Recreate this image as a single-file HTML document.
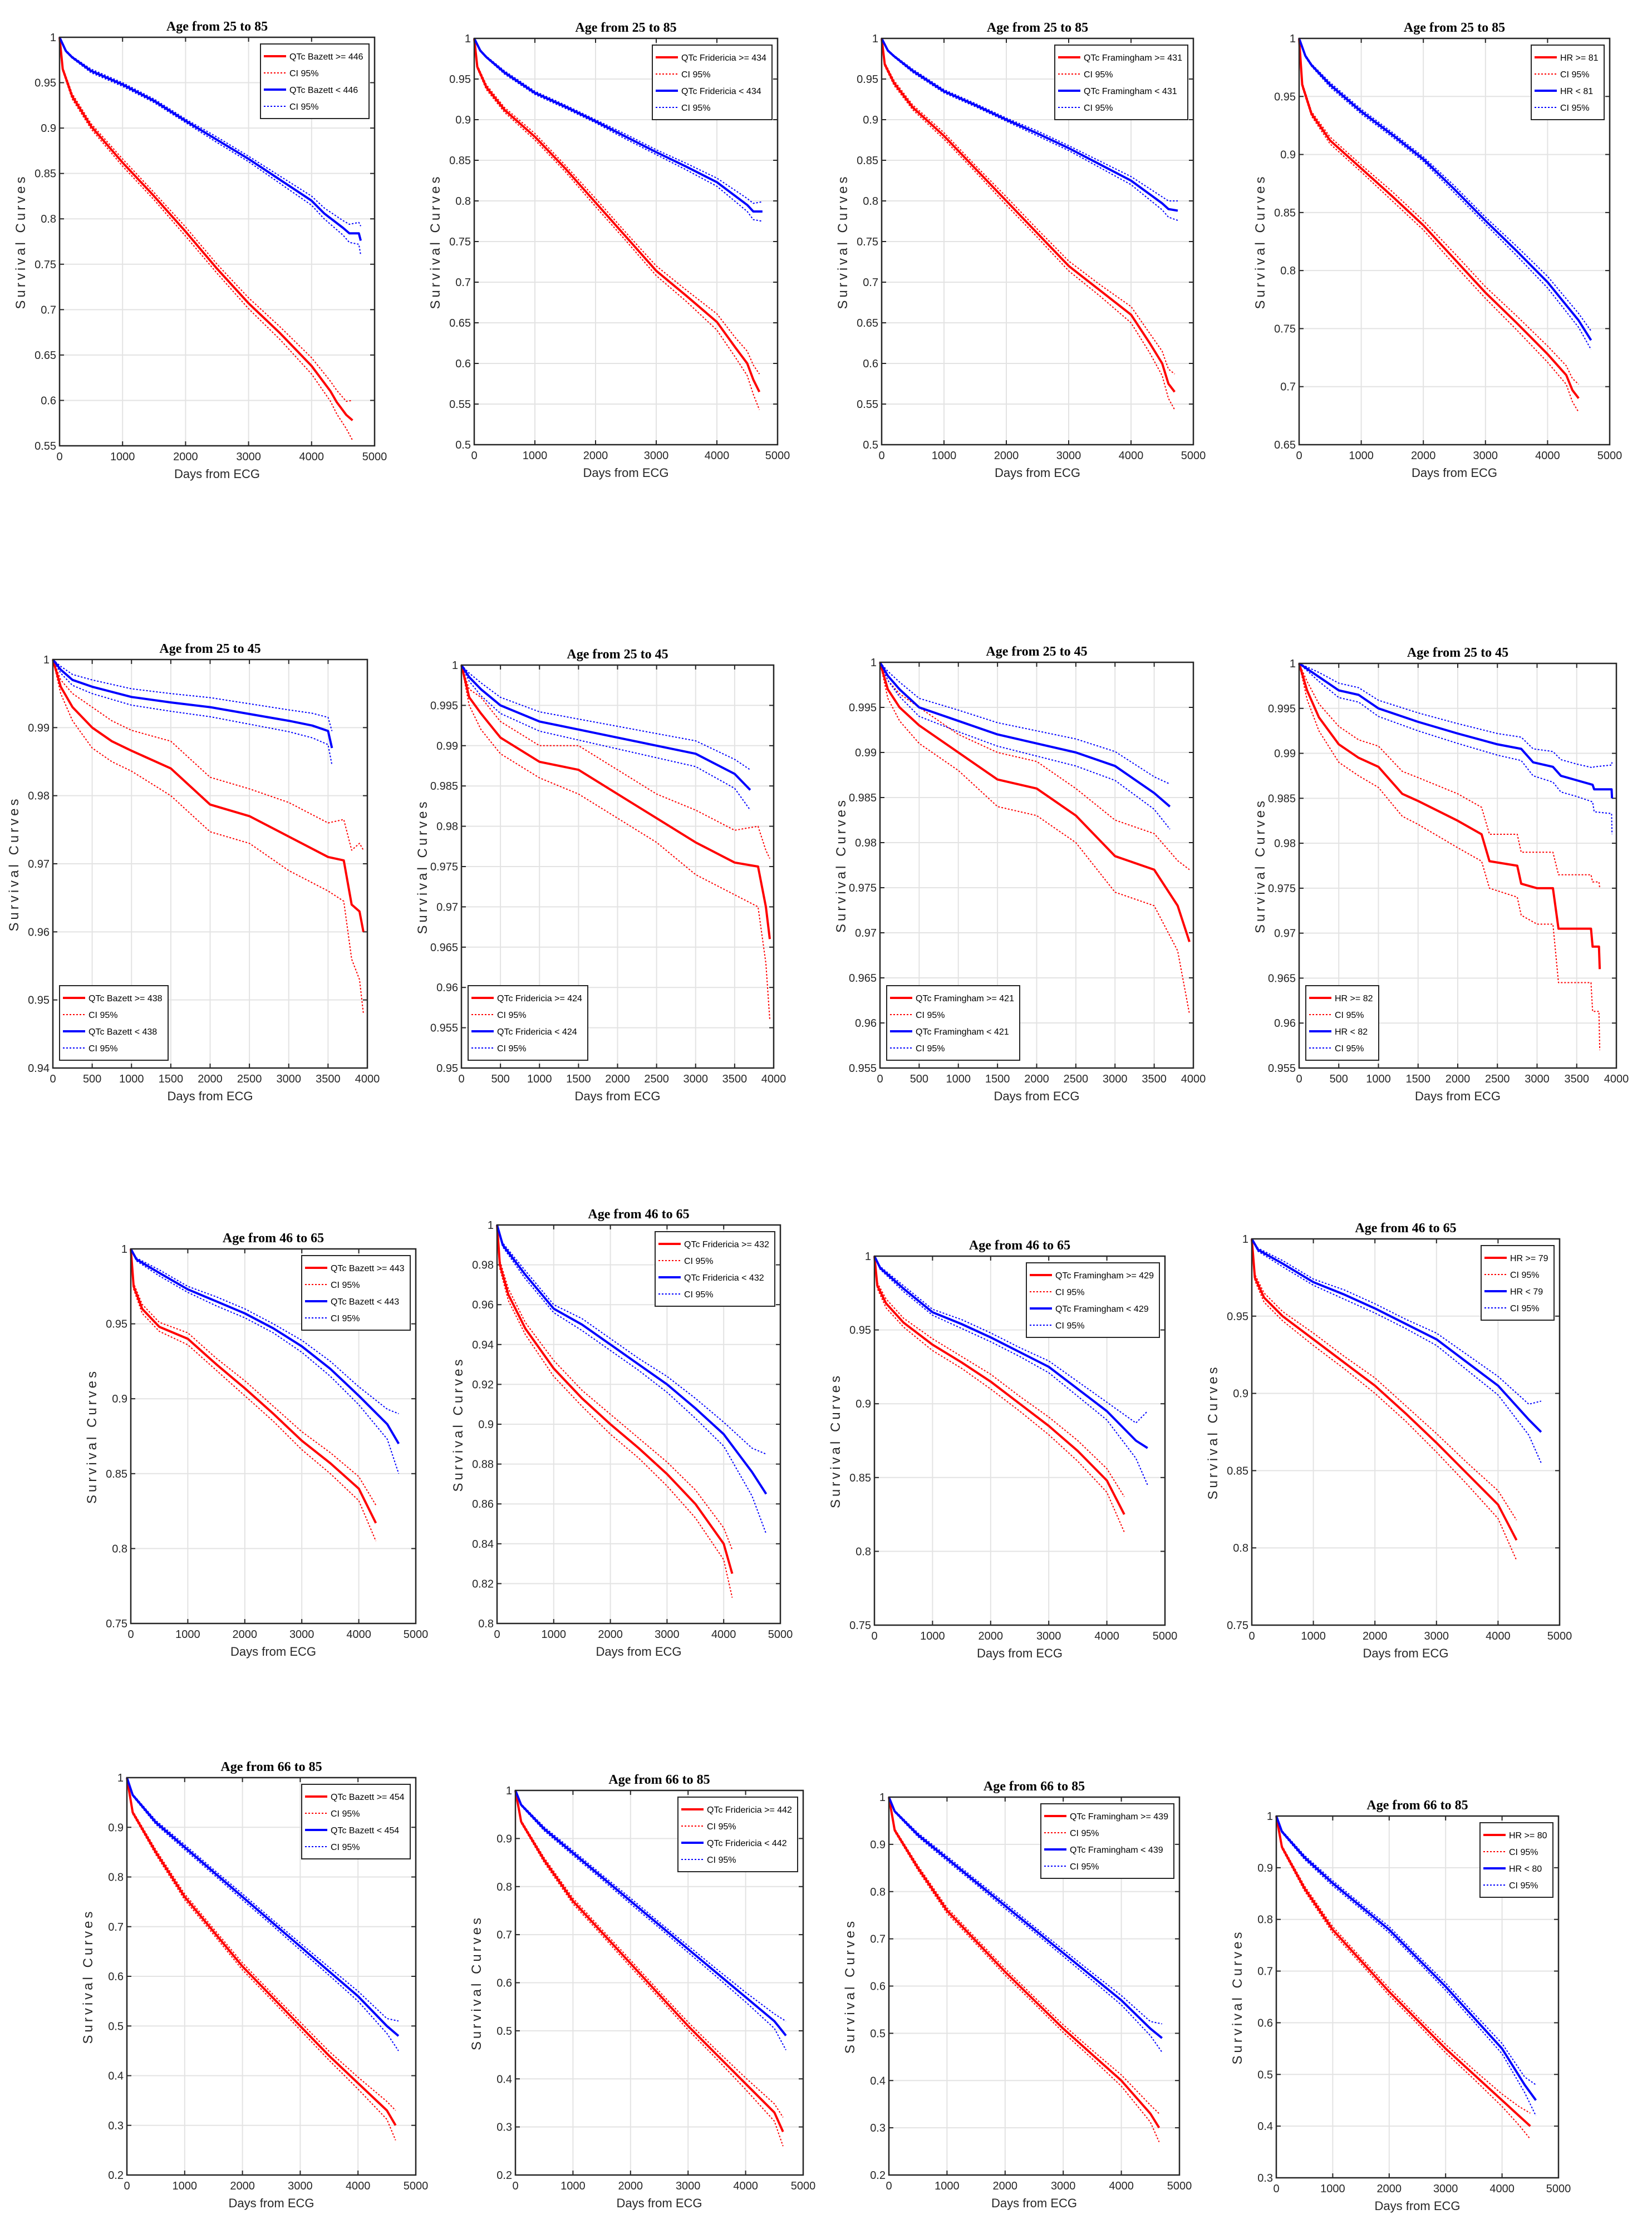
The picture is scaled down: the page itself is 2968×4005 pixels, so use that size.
<!DOCTYPE html>
<html><head><meta charset="utf-8"><title>Survival curves</title>
<style>html,body{margin:0;padding:0;background:#fff;}svg{display:block;}</style></head>
<body>
<svg id="fig" xmlns="http://www.w3.org/2000/svg" width="2968" height="4005" viewBox="0 0 2968 4005"></svg>
<script>
// ---- data (days, survival, CI half-widths) ----
const titles = ["Age from  25 to 85","Age from  25 to 85","Age from  25 to 85","Age from  25 to 85",
"Age from  25 to 45","Age from  25 to 45","Age from  25 to 45","Age from  25 to 45",
"Age from  46 to 65","Age from  46 to 65","Age from  46 to 65","Age from  46 to 65",
"Age from  66 to 85","Age from  66 to 85","Age from  66 to 85","Age from  66 to 85"];
const redLabels = ["QTc Bazett >= 446","QTc Fridericia >= 434","QTc Framingham >= 431","HR >= 81",
"QTc Bazett >= 438","QTc Fridericia >= 424","QTc Framingham >= 421","HR >= 82",
"QTc Bazett >= 443","QTc Fridericia >= 432","QTc Framingham >= 429","HR >= 79",
"QTc Bazett >= 454","QTc Fridericia >= 442","QTc Framingham >= 439","HR >= 80"];
const blueLabels = ["QTc Bazett < 446","QTc Fridericia < 434","QTc Framingham < 431","HR < 81",
"QTc Bazett < 438","QTc Fridericia < 424","QTc Framingham < 421","HR < 82",
"QTc Bazett < 443","QTc Fridericia < 432","QTc Framingham < 429","HR < 79",
"QTc Bazett < 454","QTc Fridericia < 442","QTc Framingham < 439","HR < 80"];
const yMin = [0.55,0.5,0.5,0.65, 0.94,0.95,0.955,0.955, 0.75,0.8,0.75,0.75, 0.2,0.2,0.2,0.3];
const yStep = [0.05,0.05,0.05,0.05, 0.01,0.005,0.005,0.005, 0.05,0.02,0.05,0.05, 0.1,0.1,0.1,0.1];
const xMax = [5000,5000,5000,5000, 4000,4000,4000,4000, 5000,5000,5000,5000, 5000,5000,5000,5000];

const redDays = [
[0,50,200,500,1000,1500,2000,2500,3000,3500,4000,4300,4400,4550,4650],
[0,50,200,500,1000,1500,2000,2500,3000,3500,4000,4300,4500,4600,4700],
[0,50,200,500,1000,1500,2000,2500,3000,3500,4000,4300,4500,4600,4700],
[0,50,200,500,1000,1500,2000,2500,3000,3500,4000,4300,4400,4500],
[0,100,250,500,750,1000,1500,2000,2500,3000,3500,3700,3800,3900,3950],
[0,100,250,500,1000,1500,2000,2500,3000,3500,3800,3900,3950],
[0,100,250,500,1000,1500,2000,2500,3000,3500,3800,3950],
[0,100,250,500,750,1000,1300,1500,2000,2300,2400,2750,2800,3000,3200,3270,3680,3700,3780,3790],
[0,50,200,500,1000,1500,2000,2500,3000,3500,4000,4300],
[0,50,200,500,1000,1500,2000,2500,3000,3500,4000,4150],
[0,50,200,500,1000,1500,2000,2500,3000,3500,4000,4300],
[0,50,200,500,1000,1500,2000,2500,3000,3500,4000,4300],
[0,100,500,1000,1500,2000,2500,3000,3500,4000,4500,4650],
[0,100,500,1000,1500,2000,2500,3000,3500,4000,4500,4650],
[0,100,500,1000,1500,2000,2500,3000,3500,4000,4500,4650],
[0,100,500,1000,1500,2000,2500,3000,3500,4000,4300,4500]];
const redSurv = [
[1,0.965,0.935,0.902,0.862,0.825,0.786,0.745,0.707,0.674,0.638,0.61,0.598,0.584,0.578],
[1,0.965,0.94,0.912,0.879,0.84,0.798,0.756,0.714,0.683,0.651,0.62,0.6,0.58,0.565],
[1,0.968,0.945,0.915,0.88,0.84,0.8,0.76,0.72,0.69,0.66,0.625,0.6,0.575,0.565],
[1,0.96,0.935,0.912,0.888,0.864,0.839,0.81,0.781,0.755,0.728,0.71,0.697,0.69],
[1,0.996,0.993,0.99,0.988,0.9866,0.984,0.9787,0.977,0.974,0.971,0.9705,0.964,0.963,0.96],
[1,0.996,0.994,0.991,0.988,0.987,0.984,0.981,0.978,0.9755,0.975,0.97,0.966],
[1,0.997,0.995,0.993,0.99,0.987,0.986,0.983,0.9785,0.977,0.973,0.969],
[1,0.997,0.994,0.991,0.9895,0.9885,0.9855,0.9847,0.9825,0.981,0.978,0.9775,0.9755,0.975,0.975,0.9705,0.9705,0.9685,0.9685,0.966],
[1,0.975,0.96,0.948,0.94,0.923,0.907,0.89,0.872,0.857,0.84,0.817],
[1,0.98,0.965,0.948,0.928,0.913,0.9,0.888,0.875,0.86,0.84,0.825],
[1,0.98,0.968,0.955,0.94,0.928,0.915,0.9,0.885,0.868,0.848,0.825],
[1,0.975,0.962,0.95,0.935,0.92,0.905,0.887,0.868,0.848,0.828,0.805],
[1,0.93,0.85,0.76,0.69,0.62,0.56,0.5,0.44,0.385,0.33,0.3],
[1,0.935,0.855,0.77,0.705,0.64,0.575,0.51,0.45,0.39,0.33,0.29],
[1,0.93,0.85,0.76,0.695,0.63,0.57,0.51,0.455,0.4,0.33,0.3],
[1,0.94,0.86,0.78,0.72,0.66,0.605,0.55,0.5,0.45,0.42,0.4]];
const redCI = [
[0,0.002,0.003,0.003,0.004,0.004,0.005,0.005,0.006,0.007,0.009,0.011,0.013,0.015,0.022],
[0,0.002,0.003,0.003,0.004,0.004,0.005,0.005,0.006,0.007,0.01,0.012,0.015,0.018,0.022],
[0,0.002,0.003,0.003,0.004,0.004,0.005,0.005,0.006,0.007,0.01,0.012,0.015,0.018,0.022],
[0,0.002,0.002,0.003,0.003,0.004,0.004,0.005,0.005,0.006,0.007,0.008,0.01,0.012],
[0,0.001,0.002,0.003,0.003,0.003,0.004,0.004,0.004,0.005,0.005,0.006,0.008,0.01,0.012],
[0,0.001,0.002,0.002,0.002,0.003,0.003,0.003,0.004,0.004,0.005,0.007,0.01],
[0,0.001,0.0015,0.002,0.002,0.003,0.003,0.003,0.004,0.004,0.005,0.008],
[0,0.001,0.0015,0.002,0.002,0.0023,0.0025,0.0026,0.003,0.003,0.003,0.0035,0.0035,0.004,0.004,0.006,0.006,0.0072,0.0072,0.009],
[0,0.002,0.003,0.003,0.004,0.004,0.005,0.005,0.006,0.007,0.008,0.012],
[0,0.002,0.003,0.003,0.004,0.004,0.005,0.005,0.006,0.007,0.008,0.012],
[0,0.002,0.003,0.003,0.004,0.004,0.005,0.005,0.006,0.007,0.008,0.012],
[0,0.002,0.003,0.003,0.004,0.004,0.005,0.005,0.006,0.007,0.009,0.013],
[0,0.003,0.005,0.006,0.006,0.007,0.007,0.008,0.009,0.012,0.018,0.03],
[0,0.003,0.005,0.006,0.006,0.007,0.007,0.008,0.009,0.012,0.018,0.03],
[0,0.003,0.005,0.006,0.006,0.007,0.007,0.008,0.009,0.012,0.018,0.03],
[0,0.003,0.005,0.006,0.006,0.007,0.007,0.008,0.009,0.012,0.018,0.025]];
const blueDays = [
[0,100,200,500,1000,1500,2000,2500,3000,3500,4000,4200,4500,4600,4750,4780],
[0,100,200,500,1000,1500,2000,2500,3000,3500,4000,4500,4600,4750],
[0,100,200,500,1000,1500,2000,2500,3000,3500,4000,4500,4600,4750],
[0,100,200,500,1000,1500,2000,2500,3000,3500,4000,4500,4700],
[0,100,250,500,1000,1500,2000,2500,3000,3300,3500,3550],
[0,100,250,500,1000,1500,2000,2500,3000,3500,3700],
[0,100,250,500,1000,1500,2000,2500,3000,3500,3700],
[0,250,500,750,1000,1500,2000,2500,2800,2950,3200,3300,3500,3700,3720,3940,3945],
[0,100,500,1000,1500,2000,2500,3000,3500,4000,4500,4700],
[0,100,500,1000,1500,2000,2500,3000,3500,4000,4500,4750],
[0,100,500,1000,1500,2000,2500,3000,3500,4000,4500,4700],
[0,100,500,1000,1500,2000,2500,3000,3500,4000,4500,4700],
[0,100,500,1000,1500,2000,2500,3000,3500,4000,4500,4700],
[0,100,500,1000,1500,2000,2500,3000,3500,4000,4500,4700],
[0,100,500,1000,1500,2000,2500,3000,3500,4000,4500,4700],
[0,100,500,1000,1500,2000,2500,3000,3500,4000,4400,4600]];
const blueSurv = [
[1,0.985,0.978,0.963,0.948,0.93,0.908,0.887,0.866,0.843,0.82,0.806,0.79,0.784,0.784,0.776],
[1,0.985,0.977,0.958,0.933,0.916,0.898,0.879,0.86,0.842,0.823,0.795,0.787,0.787],
[1,0.985,0.978,0.96,0.935,0.918,0.9,0.883,0.865,0.845,0.825,0.797,0.79,0.788],
[1,0.985,0.977,0.96,0.937,0.917,0.896,0.87,0.843,0.817,0.79,0.757,0.74],
[1,0.9985,0.997,0.996,0.9945,0.9937,0.993,0.992,0.991,0.9903,0.9895,0.987],
[1,0.9985,0.997,0.995,0.993,0.992,0.991,0.99,0.989,0.9865,0.9845],
[1,0.9985,0.997,0.995,0.9935,0.992,0.991,0.99,0.9885,0.9855,0.984],
[1,0.9985,0.997,0.9965,0.995,0.9935,0.9922,0.991,0.9905,0.989,0.9885,0.9875,0.987,0.9865,0.986,0.986,0.985],
[1,0.993,0.984,0.973,0.965,0.957,0.947,0.935,0.92,0.902,0.883,0.87],
[1,0.99,0.975,0.958,0.95,0.94,0.93,0.92,0.908,0.895,0.876,0.865],
[1,0.992,0.978,0.962,0.954,0.945,0.935,0.925,0.91,0.895,0.875,0.87],
[1,0.993,0.984,0.972,0.964,0.955,0.945,0.935,0.92,0.905,0.883,0.875],
[1,0.965,0.91,0.86,0.81,0.76,0.71,0.66,0.61,0.56,0.5,0.48],
[1,0.97,0.92,0.87,0.82,0.77,0.72,0.67,0.62,0.57,0.52,0.49],
[1,0.97,0.92,0.87,0.82,0.77,0.72,0.67,0.62,0.57,0.51,0.49],
[1,0.97,0.92,0.87,0.825,0.78,0.725,0.67,0.61,0.55,0.48,0.45]];
const blueCI = [
[0,0.001,0.001,0.002,0.002,0.002,0.002,0.003,0.003,0.004,0.005,0.006,0.008,0.01,0.012,0.016],
[0,0.001,0.001,0.002,0.002,0.002,0.002,0.003,0.003,0.004,0.005,0.008,0.01,0.012],
[0,0.001,0.001,0.002,0.002,0.002,0.002,0.003,0.003,0.004,0.005,0.008,0.01,0.012],
[0,0.001,0.001,0.002,0.002,0.002,0.002,0.003,0.003,0.004,0.005,0.006,0.008],
[0,0.0005,0.0008,0.001,0.0012,0.0013,0.0014,0.0015,0.0016,0.0018,0.002,0.0025],
[0,0.0005,0.0008,0.001,0.0012,0.0013,0.0014,0.0015,0.0016,0.0018,0.0025],
[0,0.0005,0.0008,0.001,0.0012,0.0013,0.0014,0.0015,0.0016,0.0018,0.0025],
[0,0.0005,0.0008,0.0008,0.0009,0.001,0.0011,0.0012,0.0013,0.0015,0.0017,0.0018,0.0018,0.0019,0.0025,0.0027,0.004],
[0,0.001,0.002,0.002,0.003,0.003,0.003,0.004,0.005,0.006,0.01,0.02],
[0,0.001,0.002,0.002,0.003,0.003,0.003,0.004,0.005,0.006,0.012,0.02],
[0,0.001,0.002,0.002,0.003,0.003,0.003,0.004,0.005,0.006,0.012,0.025],
[0,0.001,0.002,0.002,0.003,0.003,0.003,0.004,0.005,0.006,0.01,0.02],
[0,0.002,0.004,0.005,0.005,0.006,0.006,0.007,0.008,0.01,0.015,0.03],
[0,0.002,0.004,0.005,0.005,0.006,0.006,0.007,0.008,0.01,0.015,0.03],
[0,0.002,0.004,0.005,0.005,0.006,0.006,0.007,0.008,0.01,0.015,0.03],
[0,0.002,0.004,0.005,0.005,0.006,0.006,0.007,0.008,0.01,0.015,0.03]];

// ---- layout (pixel boxes: left, top, right, bottom) ----
const boxes = [
[107,67,673,801],[852,69,1397,799],[1584,69,2144,799],[2334,69,2892,799],
[95,1185,660,1919],[829,1195,1390,1919],[1581,1190,2144,1919],[2334,1192,2904,1919],
[235,2244,747,2917],[893,2201,1402,2917],[1571,2257,2093,2920],[2249,2226,2802,2920],
[228,3194,747,3908],[926,3217,1443,3908],[1597,3229,2119,3908],[2293,3263,2800,3913]];
const legendAtBottom = [false,false,false,false,true,true,true,true,false,false,false,false,false,false,false,false];

const NS = "http://www.w3.org/2000/svg";
const svg = document.getElementById("fig");
function mk(tag, attrs, parent){const e=document.createElementNS(NS,tag);for(const k in attrs)e.setAttribute(k,attrs[k]);(parent||svg).appendChild(e);return e;}
function fmt(v){return (+v.toFixed(4)).toString();}

for(let p=0;p<16;p++){
  const [L,T,R,B]=boxes[p];
  const g=mk("g",{});
  
  
  const xs=v=>L+(v/xMax[p])*(R-L);
  const ys=v=>B-(v-yMin[p])/(1-yMin[p])*(B-T);
  const xStep = xMax[p]===4000?500:1000;
  const grid=mk("g",{stroke:"#e3e3e3","stroke-width":2},g);
  
  
  const ticks=mk("g",{stroke:"#262626","stroke-width":2},g);
  const xl=mk("g",{"font-family":"Liberation Sans, sans-serif","font-size":20,fill:"#262626","text-anchor":"middle"},g);
  
  
  for(let v=0;v<=xMax[p]+1e-6;v+=xStep){
    const x=xs(v);
    if(v>0&&v<xMax[p]) mk("line",{x1:x,y1:T,x2:x,y2:B},grid);
    mk("line",{x1:x,y1:B,x2:x,y2:B-8},ticks);mk("line",{x1:x,y1:T,x2:x,y2:T+8},ticks);
    const t=mk("text",{x:x,y:B+26},xl);t.textContent=v;
  }
  const yl=mk("g",{"font-family":"Liberation Sans, sans-serif","font-size":20,fill:"#262626","text-anchor":"end"},g);
  
  
  const n=Math.round((1-yMin[p])/yStep[p]);
  for(let i=0;i<=n;i++){
    const v=yMin[p]+i*yStep[p];const y=ys(v);
    if(i>0&&i<n) mk("line",{x1:L,y1:y,x2:R,y2:y},grid);
    mk("line",{x1:L,y1:y,x2:L+8,y2:y},ticks);mk("line",{x1:R,y1:y,x2:R-8,y2:y},ticks);
    const t=mk("text",{x:L-6,y:y+7},yl);t.textContent=fmt(v);
  }
  function line(days,surv,off,color,dash,w,name){
    const pts=days.map((d,i)=>xs(d).toFixed(1)+","+ys(surv[i]+off(i)).toFixed(1)).join(" ");
    const e=mk("polyline",{points:pts,fill:"none",stroke:color,"stroke-width":w,"stroke-linejoin":"round"},g);
    if(dash)e.setAttribute("stroke-dasharray",dash);
    
    
  }
  line(redDays[p],redSurv[p],i=>redCI[p][i],"#ff0000","3,3",2,"red-ci-upper");
  line(redDays[p],redSurv[p],i=>-redCI[p][i],"#ff0000","3,3",2,"red-ci-lower");
  line(blueDays[p],blueSurv[p],i=>blueCI[p][i],"#0000ff","3,3",2,"blue-ci-upper");
  line(blueDays[p],blueSurv[p],i=>-blueCI[p][i],"#0000ff","3,3",2,"blue-ci-lower");
  line(redDays[p],redSurv[p],i=>0,"#ff0000",null,4,"red-survival-curve");
  line(blueDays[p],blueSurv[p],i=>0,"#0000ff",null,4,"blue-survival-curve");
  const bx=mk("rect",{x:L,y:T,width:R-L,height:B-T,fill:"none",stroke:"#262626","stroke-width":2.5},g);
  
  
  const ti=mk("text",{x:(L+R)/2,y:T-12,"font-family":"Liberation Serif, serif","font-weight":"bold","font-size":24,"text-anchor":"middle",fill:"#000"},g);
  ti.textContent=titles[p];
  
  
  const xa=mk("text",{x:(L+R)/2,y:B+58,"font-family":"Liberation Sans, sans-serif","font-size":22,"text-anchor":"middle",fill:"#262626"},g);
  xa.textContent="Days from ECG";
  
  
  const cy=(T+B)/2, cx=L-62;
  const ya=mk("text",{x:cx,y:cy,transform:`rotate(-90 ${cx} ${cy})`,"font-family":"Liberation Sans, sans-serif","font-size":24,"letter-spacing":5,"text-anchor":"middle",fill:"#262626"},g);
  ya.textContent="Survival Curves";
  
  
  // legend (auto-sized to text)
  const labels=[redLabels[p],"CI 95%",blueLabels[p],"CI 95%"];
  const rh=30, lh=rh*4+14;
  const lg=mk("g",{},g);
  
  
  const frame=mk("rect",{fill:"#fff",stroke:"#262626","stroke-width":2},lg);
  const texts=[];
  labels.forEach((lab,i)=>{
    const col=i<2?"#ff0000":"#0000ff";
    const sw=mk("line",{stroke:col,"stroke-width":i%2?2:4},lg);
    if(i%2)sw.setAttribute("stroke-dasharray","3,3");
    
    
    const t=mk("text",{"font-family":"Liberation Sans, sans-serif","font-size":16,fill:"#000"},lg);
    t.textContent=lab;
    
    
    texts.push([sw,t]);
  });
  let maxW=0;texts.forEach(([s,t])=>{maxW=Math.max(maxW,t.getComputedTextLength());});
  const lw=Math.ceil(maxW)+62;
  const lx=legendAtBottom[p]?L+12:R-lw-10;
  const ly=legendAtBottom[p]?B-lh-14:T+12;
  frame.setAttribute("x",lx);frame.setAttribute("y",ly);frame.setAttribute("width",lw);frame.setAttribute("height",lh);
  texts.forEach(([sw,t],i)=>{
    const y=ly+7+rh*i+rh/2;
    sw.setAttribute("x1",lx+6);sw.setAttribute("x2",lx+46);sw.setAttribute("y1",y);sw.setAttribute("y2",y);
    t.setAttribute("x",lx+52);t.setAttribute("y",y+6);
  });
}
</script>
</body></html>
